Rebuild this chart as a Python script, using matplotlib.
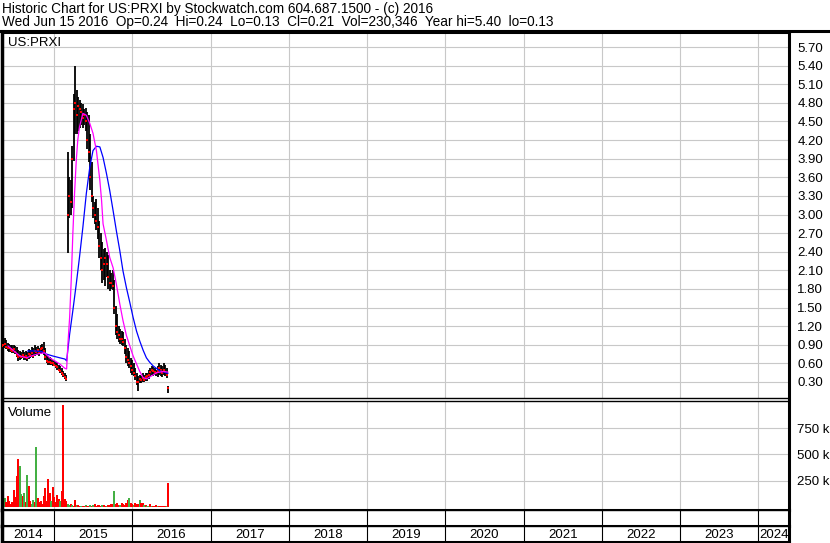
import numpy as np
import pandas as pd
import matplotlib
matplotlib.use("Agg")
import matplotlib.pyplot as plt
from matplotlib.lines import Line2D
from matplotlib.ticker import FixedLocator, FuncFormatter

plt.rcParams['font.family'] = ['Liberation Sans', 'DejaVu Sans']

# weekly bars, first week starting 2014-05-02, then the last day (2016-06-15)
week_start = "2014-05-02"
last_day = "2016-06-15"

high = [0.95, 0.98, 1.01, 0.97, 0.93, 0.91, 0.90, 0.89, 0.90, 0.88,
        0.86, 0.82, 0.80, 0.78, 0.81, 0.79, 0.80, 0.78, 0.83, 0.82,
        0.86, 0.84, 0.89, 0.86, 0.88, 0.85, 0.90, 0.92, 0.95, 0.84,
        0.74, 0.72, 0.70, 0.68, 0.66, 0.64, 0.62, 0.60, 0.58, 0.56,
        0.52, 0.48, 0.45, 0.42,
        4.00, 3.60, 3.55, 4.10, 4.95, 5.40, 5.00, 4.90, 4.85, 4.80,
        4.78, 4.70, 4.72, 4.65, 4.60, 4.30, 3.85, 3.30, 3.20, 3.25,
        3.10, 2.90, 2.70, 2.55, 2.45, 2.46, 2.40, 2.35, 2.10, 2.05,
        2.10, 1.95, 1.53, 1.40, 1.20, 1.15, 1.12, 1.10, 1.00, 0.90,
        0.85, 0.80, 0.69, 0.65, 0.60, 0.53, 0.45, 0.40, 0.42, 0.40,
        0.45, 0.42, 0.44, 0.45, 0.50, 0.52, 0.56, 0.54, 0.52, 0.50,
        0.55, 0.61, 0.58, 0.55, 0.60, 0.58, 0.52, 0.24]
low = [0.82, 0.84, 0.85, 0.83, 0.80, 0.79, 0.78, 0.76, 0.77, 0.75,
       0.70, 0.64, 0.66, 0.67, 0.68, 0.65, 0.66, 0.64, 0.67, 0.68,
       0.70, 0.68, 0.72, 0.73, 0.74, 0.72, 0.75, 0.76, 0.74, 0.66,
       0.60, 0.58, 0.57, 0.58, 0.56, 0.55, 0.52, 0.50, 0.47, 0.44,
       0.41, 0.38, 0.35, 0.32,
       2.38, 2.95, 3.00, 3.10, 3.87, 4.30, 4.30, 4.35, 4.40, 4.45,
       4.40, 4.45, 4.35, 4.05, 3.85, 3.40, 3.20, 2.95, 2.85, 2.75,
       2.60, 2.30, 2.10, 1.90, 1.95, 1.85, 2.00, 1.80, 1.77, 1.80,
       1.78, 1.40, 1.05, 1.00, 0.95, 0.92, 0.90, 0.88, 0.75, 0.60,
       0.55, 0.53, 0.45, 0.42, 0.40, 0.33, 0.25, 0.16, 0.28, 0.29,
       0.30, 0.30, 0.31, 0.32, 0.35, 0.40, 0.42, 0.40, 0.42, 0.40,
       0.38, 0.42, 0.40, 0.38, 0.42, 0.40, 0.37, 0.13]
close = [0.88, 0.90, 0.92, 0.86, 0.85, 0.84, 0.82, 0.80, 0.83, 0.79,
         0.74, 0.70, 0.72, 0.71, 0.74, 0.70, 0.72, 0.69, 0.75, 0.73,
         0.77, 0.72, 0.80, 0.78, 0.81, 0.76, 0.83, 0.85, 0.80, 0.70,
         0.64, 0.63, 0.62, 0.61, 0.60, 0.58, 0.55, 0.54, 0.50, 0.48,
         0.45, 0.42, 0.38, 0.35,
         3.00, 3.30, 3.20, 3.90, 4.70, 4.80, 4.60, 4.75, 4.70, 4.65,
         4.55, 4.60, 4.50, 4.20, 4.00, 3.60, 3.30, 3.10, 3.00, 2.90,
         2.80, 2.50, 2.30, 2.10, 2.20, 2.30, 2.20, 2.00, 1.90, 1.90,
         1.85, 1.50, 1.20, 1.10, 1.05, 1.00, 1.00, 0.95, 0.85, 0.70,
         0.65, 0.60, 0.55, 0.50, 0.45, 0.40, 0.30, 0.30, 0.35, 0.33,
         0.36, 0.34, 0.38, 0.40, 0.42, 0.46, 0.50, 0.47, 0.46, 0.45,
         0.48, 0.52, 0.50, 0.45, 0.50, 0.46, 0.42, 0.21]
volume = [58, 40, 80, 45, 106, 60, 30, 50, 163, 90,
          298, 460, 394, 120, 99, 130, 50, 308, 202, 60,
          30, 70, 50, 567, 80, 50, 60, 30, 100, 183,
          60, 270, 130, 60, 192, 90, 50, 110, 72, 60,
          154, 970, 78, 60,
          25, 20, 25, 15, 10, 67, 20, 15, 10, 8,
          12, 10, 15, 12, 8, 15, 10, 20, 25, 12,
          15, 20, 10, 15, 20, 12, 10, 20, 15, 25,
          25, 155, 30, 35, 20, 15, 35, 25, 15, 40,
          64, 87, 40, 30, 15, 35, 30, 25, 64, 35,
          40, 20, 15, 12, 10, 30, 12, 10, 12, 15,
          10, 10, 12, 10, 10, 12, 10, 230]  # thousands
# g = up week (green), d = down week (red)
vol_up = ("gdgddddddd" "ddggdgdgdd" "ggdgdddddd" "dddgdddddg" "ddd"
          "dggdgddgdd" "gddgddgdgd" "ddddgddgdd" "ddgdddgddd"
          "ddgddgdddg" "ddgdggdgdd" "dgdddd" "d")

ma_fast_dates = ["2014-06-01", "2014-07-26", "2014-08-26", "2014-09-26", "2014-10-27",
                 "2014-11-19", "2014-12-12", "2015-01-05", "2015-01-28", "2015-02-21",
                 "2015-03-01", "2015-03-07", "2015-03-15", "2015-03-23", "2015-03-30",
                 "2015-04-07", "2015-04-15", "2015-04-22", "2015-04-30", "2015-05-16",
                 "2015-06-01", "2015-06-17", "2015-07-02", "2015-07-18", "2015-08-03",
                 "2015-08-11", "2015-08-18", "2015-09-03", "2015-09-18", "2015-10-04",
                 "2015-10-19", "2015-11-04", "2015-11-19", "2015-12-05", "2015-12-21",
                 "2016-01-05", "2016-01-21", "2016-02-05", "2016-02-21", "2016-03-07",
                 "2016-04-01", "2016-04-24", "2016-05-25", "2016-06-15"]
ma_fast = [0.88, 0.72, 0.69, 0.73, 0.76, 0.77, 0.69, 0.64, 0.59, 0.52,
           0.51, 0.91, 1.34, 1.98, 2.69, 3.34, 3.87, 4.20, 4.41, 4.63,
           4.60, 4.47, 4.31, 4.03, 3.55, 3.23, 2.85, 2.58, 2.31, 2.14,
           1.88, 1.56, 1.29, 1.05, 0.88, 0.72, 0.59, 0.47, 0.37, 0.35,
           0.40, 0.45, 0.47, 0.46]

ma_slow_dates = ["2014-09-01", "2014-10-03", "2014-11-05", "2014-11-27", "2014-12-26",
                 "2015-01-28", "2015-02-21", "2015-03-01", "2015-03-15", "2015-03-30",
                 "2015-04-15", "2015-04-30", "2015-05-16", "2015-06-01", "2015-06-17",
                 "2015-07-02", "2015-07-18", "2015-08-03", "2015-08-18", "2015-09-03",
                 "2015-09-18", "2015-10-04", "2015-10-19", "2015-11-04", "2015-11-19",
                 "2015-12-05", "2015-12-21", "2016-01-05", "2016-01-21", "2016-02-05",
                 "2016-02-21", "2016-03-07", "2016-03-22", "2016-04-07", "2016-05-08",
                 "2016-06-08", "2016-06-15"]
ma_slow = [0.80, 0.80, 0.79, 0.75, 0.72, 0.69, 0.67, 0.64, 1.07, 1.45,
           1.88, 2.31, 2.80, 3.34, 3.76, 4.03, 4.10, 4.09, 3.92, 3.66,
           3.39, 3.06, 2.74, 2.42, 2.09, 1.82, 1.58, 1.34, 1.12, 0.96,
           0.81, 0.69, 0.62, 0.56, 0.48, 0.45, 0.44]

price_ticks = [0.30, 0.60, 0.90, 1.20, 1.50, 1.80, 2.10, 2.40, 2.70, 3.00,
               3.30, 3.60, 3.90, 4.20, 4.50, 4.80, 5.10, 5.40, 5.70]
vol_ticks = [250, 500, 750]
years = list(range(2014, 2025))

header1 = "Historic Chart for US:PRXI by Stockwatch.com 604.687.1500 - (c) 2016"
header2 = "Wed Jun 15 2016  Op=0.24  Hi=0.24  Lo=0.13  Cl=0.21  Vol=230,346  Year hi=5.40  lo=0.13"


def dec_year(d):
    d = pd.to_datetime(d)
    return d.year + (d.dayofyear - 1) / 365.25


n_weeks = len(high) - 1
dates = list(pd.date_range(week_start, periods=n_weeks, freq="7D")) + [pd.Timestamp(last_day)]
x = np.array([dec_year(d) for d in dates])
xf = np.array([dec_year(d) for d in ma_fast_dates])
xs = np.array([dec_year(d) for d in ma_slow_dates])
vol_colors = ["#44b044" if c == "g" else "#ff0000" for c in vol_up]

W, H = 830, 543
fig = plt.figure(figsize=(W / 100, H / 100), dpi=100)


def box(x0, y0, x1, y1):
    return [x0 / W, 1 - y1 / H, (x1 - x0) / W, (y1 - y0) / H]


xlim = (2014.336, 2024.39)
grid_c = "#c8c8c8"
fs = 9.5
fs_head = 9.8

ax_p = fig.add_axes(box(2, 32, 789, 398))
ax_v = fig.add_axes(box(2, 401, 789, 510))
ax_b = fig.add_axes(box(2, 510, 789, 526))
ax_y = fig.add_axes(box(2, 526, 789, 542))

for ax in (ax_p, ax_v, ax_b, ax_y):
    ax.set_xlim(*xlim)
    ax.set_xticks([])
    for s in ax.spines.values():
        s.set_color("black")
        s.set_linewidth(1.0)
    ax.spines["right"].set_linewidth(2.2)
    ax.spines["left"].set_linewidth(2.5)

# price panel
ax_p.set_ylim(0.042, 5.942)
for t in price_ticks:
    ax_p.axhline(t, color=grid_c, lw=0.8, zorder=0)
for yr in years[1:]:
    ax_p.axvline(yr, color=grid_c, lw=0.8, zorder=0)
    ax_v.axvline(yr, color=grid_c, lw=0.8, zorder=0)
ax_p.vlines(x, low, high, color="black", lw=1.3, zorder=2)
ax_p.plot(x, close, "s", color="red", ms=1.8, mew=0, zorder=3)
ax_p.plot(xs, ma_slow, color="#0000ff", lw=0.9, zorder=4)
ax_p.plot(xf, ma_fast, color="#ff00ff", lw=0.9, zorder=4)
ax_p.yaxis.tick_right()
ax_p.yaxis.set_major_locator(FixedLocator(price_ticks))
ax_p.yaxis.set_major_formatter(FuncFormatter(lambda v, p: "%.2f" % v))
ax_p.tick_params(axis="y", length=0, pad=6, labelsize=fs)
ax_p.spines["top"].set_linewidth(2.2)
ax_p.text(0.008, 0.97, "US:PRXI", transform=ax_p.transAxes, fontsize=fs, va="center", ha="left")

# volume panel
ax_v.set_ylim(-30, 1010)
for t in vol_ticks:
    ax_v.axhline(t, color=grid_c, lw=0.8, zorder=0)
ax_v.bar(x, volume, width=9 / 365.25, color=vol_colors, align="center", zorder=2)
ax_v.yaxis.tick_right()
ax_v.yaxis.set_major_locator(FixedLocator(vol_ticks))
ax_v.yaxis.set_major_formatter(FuncFormatter(lambda v, p: "%d k" % v))
ax_v.tick_params(axis="y", length=0, pad=6, labelsize=fs)
ax_v.spines["bottom"].set_linewidth(2.2)
ax_v.text(0.008, 0.89, "Volume", transform=ax_v.transAxes, fontsize=fs, va="center", ha="left")

# year rows
for ax in (ax_b, ax_y):
    ax.set_ylim(0, 1)
    ax.set_yticks([])
    for yr in years[1:]:
        ax.axvline(yr, color="black", lw=0.8)
    ax.spines["bottom"].set_linewidth(2.2)
for yr in years:
    a, b = max(yr, xlim[0]), min(yr + 1, xlim[1])
    ax_y.text((a + b) / 2, 0.45, str(yr), ha="center", va="center", fontsize=fs)

# header
fig.text(2 / W, 1 - 9 / H, header1, fontsize=fs_head, va="center", ha="left")
fig.text(2 / W, 1 - 22 / H, header2, fontsize=fs_head, va="center", ha="left")
fig.add_artist(Line2D([0, 1], [1 - 31 / H, 1 - 31 / H], color="black", lw=2.2,
                      transform=fig.transFigure))

fig.savefig("out.png", dpi=100)
